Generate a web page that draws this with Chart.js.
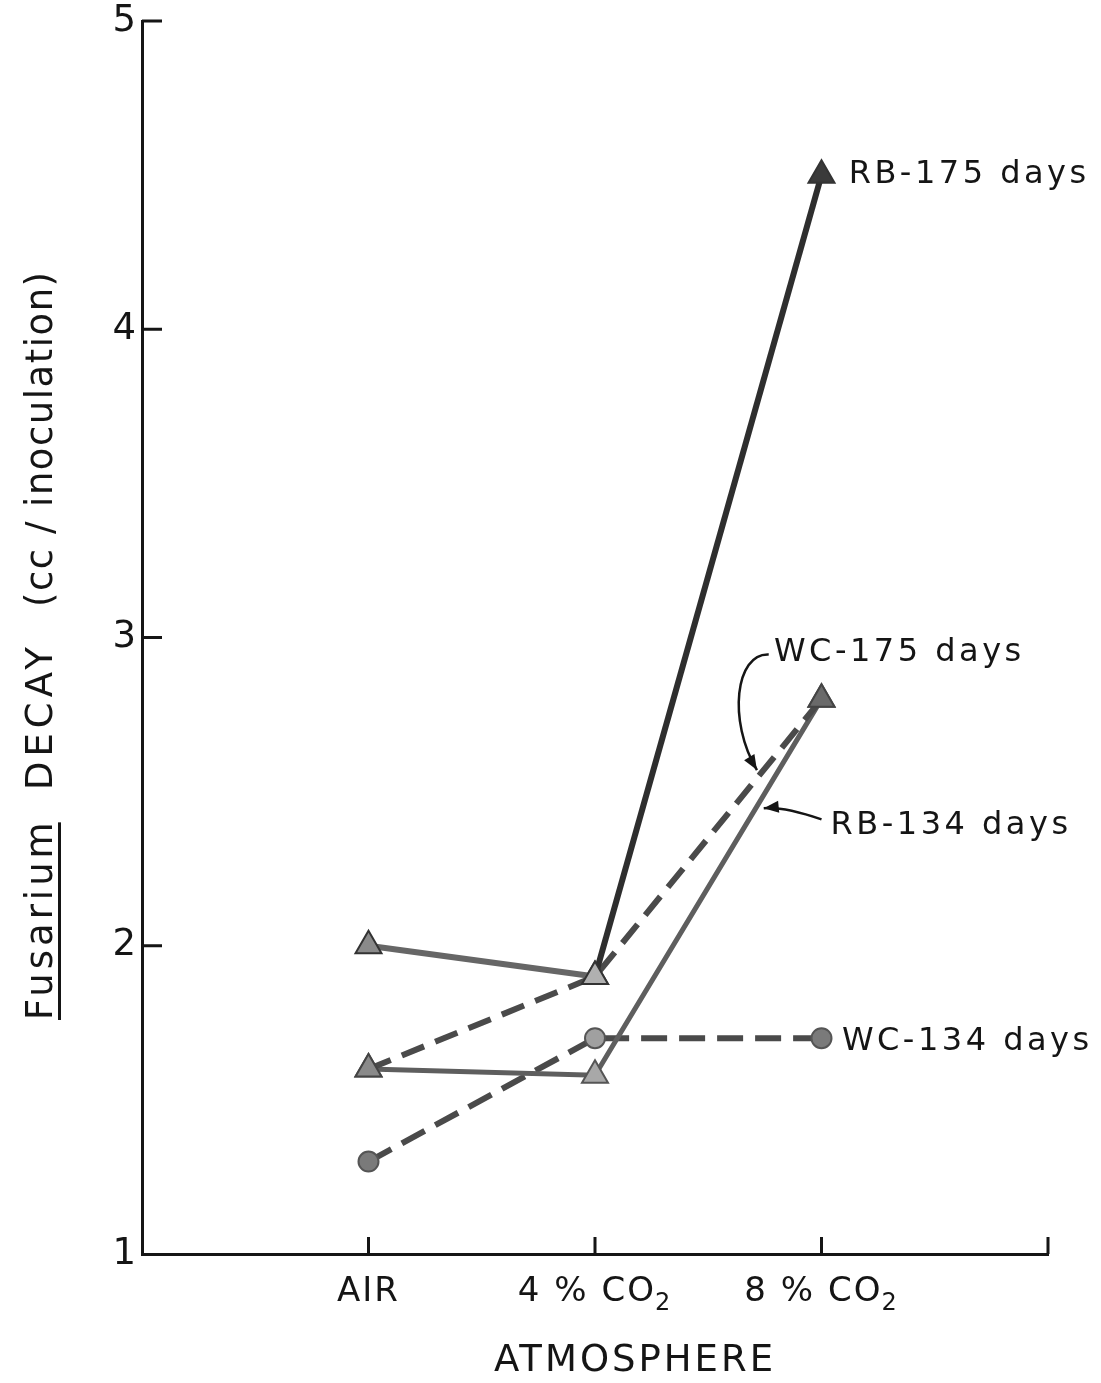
<!DOCTYPE html>
<html>
<head>
<meta charset="utf-8">
<script src="https://cdn.jsdelivr.net/npm/chart.js@4/dist/chart.umd.min.js"></script>
<style>
  html, body { margin: 0; padding: 0; background: #fff; }
  #chart { display: block; }
</style>
</head>
<body>
<canvas id="chart" width="1101" height="1383"></canvas>
<script>
// categories along the x axis; the trailing part goes in subscript
const categories = ['AIR', '4 % CO', '8 % CO']
const categorySubs = ['', '2', '2']
const yTickValues = [1, 2, 3, 4, 5]

// decay, cc per inoculation
const rb175 = [2.0, 1.9, 4.5]
const wc175 = [1.6, 1.9, 2.8]
const rb134 = [1.6, 1.58, 2.8]
const wc134 = [1.3, 1.7, 1.7]

const seriesNames = ['RB-175 days', 'WC-175 days', 'RB-134 days', 'WC-134 days']

const toPoints = (arr) => arr.map((v, i) => ({ x: i, y: v }))

const INK = '#151515'
const FONT = '"DejaVu Sans", sans-serif'

// label anchors and leader curves, in data units
const labelAt = [
  { x: 2.12, y: 4.5 },
  { x: 1.79, y: 2.95 },
  { x: 2.04, y: 2.39 },
  { x: 2.09, y: 1.69 },
]
const leaders = [
  { from: { x: 1.767, y: 2.945 }, c1: { x: 1.62, y: 2.95 }, c2: { x: 1.585, y: 2.73 }, to: { x: 1.715, y: 2.57 } },
  { from: { x: 2.0, y: 2.41 }, c1: { x: 1.88, y: 2.44 }, c2: { x: 1.8, y: 2.45 }, to: { x: 1.745, y: 2.446 } },
]

const drawArrowHead = (ctx, x0, y0, x1, y1) => {
  const a = Math.atan2(y1 - y0, x1 - x0)
  const len = 15
  const w = 6
  ctx.beginPath()
  ctx.moveTo(x1, y1)
  ctx.lineTo(x1 - len * Math.cos(a) + w * Math.sin(a), y1 - len * Math.sin(a) - w * Math.cos(a))
  ctx.lineTo(x1 - len * Math.cos(a) - w * Math.sin(a), y1 - len * Math.sin(a) + w * Math.cos(a))
  ctx.closePath()
  ctx.fill()
}

const decorations = {
  id: 'decorations',
  beforeDraw(chart) {
    chart.ctx.letterSpacing = '2px'
  },
  afterDraw(chart) {
    const { ctx, chartArea, scales } = chart
    const x = scales.x
    const y = scales.y
    const px = (v) => x.getPixelForValue(v)
    const py = (v) => y.getPixelForValue(v)

    ctx.save()
    ctx.strokeStyle = INK
    ctx.fillStyle = INK
    ctx.lineWidth = 3
    ctx.lineCap = 'butt'

    // inward tick marks
    ctx.beginPath()
    yTickValues.slice(1).forEach((v) => {
      ctx.moveTo(chartArea.left, py(v))
      ctx.lineTo(chartArea.left + 20, py(v))
    })
    ;[0, 1, 2, 3].forEach((v) => {
      ctx.moveTo(px(v), chartArea.bottom)
      ctx.lineTo(px(v), chartArea.bottom - 17)
    })
    ctx.stroke()

    // category labels with subscripts
    ctx.textBaseline = 'alphabetic'
    ctx.textAlign = 'left'
    x.ticks.forEach((t) => {
      const i = t.value
      ctx.font = '34px ' + FONT
      ctx.letterSpacing = '2px'
      const w1 = ctx.measureText(categories[i]).width
      ctx.font = '24px ' + FONT
      ctx.letterSpacing = '0px'
      const w2 = categorySubs[i] ? ctx.measureText(categorySubs[i]).width + 1 : 0
      const left = px(i) - (w1 + w2) / 2
      ctx.font = '34px ' + FONT
      ctx.letterSpacing = '2px'
      ctx.fillText(categories[i], left, chartArea.bottom + 47)
      if (categorySubs[i]) {
        ctx.font = '24px ' + FONT
        ctx.letterSpacing = '0px'
        ctx.fillText(categorySubs[i], left + w1 - 1, chartArea.bottom + 56)
      }
    })

    // series labels
    ctx.font = '32px ' + FONT
    ctx.letterSpacing = '3.5px'
    ctx.textBaseline = 'middle'
    ctx.textAlign = 'left'
    seriesNames.forEach((name, i) => {
      ctx.fillText(name, px(labelAt[i].x), py(labelAt[i].y))
    })

    // leader arrows
    ctx.lineWidth = 2.5
    leaders.forEach((l) => {
      ctx.beginPath()
      ctx.moveTo(px(l.from.x), py(l.from.y))
      ctx.bezierCurveTo(px(l.c1.x), py(l.c1.y), px(l.c2.x), py(l.c2.y), px(l.to.x), py(l.to.y))
      ctx.stroke()
      drawArrowHead(ctx, px(l.c2.x), py(l.c2.y), px(l.to.x), py(l.to.y))
    })

    // x axis title
    ctx.font = '37px ' + FONT
    ctx.letterSpacing = '3px'
    ctx.textAlign = 'center'
    ctx.fillText('ATMOSPHERE', 635, 1361)

    // y axis title, rotated
    ctx.translate(52, 0)
    ctx.rotate(-Math.PI / 2)
    ctx.textAlign = 'left'
    ctx.textBaseline = 'alphabetic'
    ctx.font = '37px ' + FONT
    ctx.letterSpacing = '4px'
    ctx.fillText('Fusarium', -1020, 0)
    const fw = ctx.measureText('Fusarium').width
    ctx.fillRect(-1020, 6, fw - 4, 3)
    ctx.letterSpacing = '5px'
    ctx.fillText('DECAY', -790, 0)
    ctx.letterSpacing = '1.5px'
    ctx.fillText('(cc / inoculation)', -607, 0)
    ctx.restore()
  },
}

new Chart(document.getElementById('chart'), {
  type: 'line',
  data: {
    datasets: [
      {
        label: seriesNames[0],
        data: toPoints(rb175),
        borderColor: '#333',
        borderWidth: 6,
        segment: { borderColor: (c) => (c.p0DataIndex === 0 ? '#666' : '#2e2e2e') },
        pointStyle: 'triangle',
        pointRadius: 15,
        pointBackgroundColor: ['#8a8a8a', '#b0b0b0', '#3a3a3a'],
        pointBorderColor: '#333',
        pointBorderWidth: 2,
      },
      {
        label: seriesNames[1],
        data: toPoints(wc175),
        borderColor: '#4a4a4a',
        borderWidth: 6,
        borderDash: [24, 12],
        pointStyle: 'triangle',
        pointRadius: 15,
        pointBackgroundColor: ['#8a8a8a', '#b0b0b0', '#6a6a6a'],
        pointBorderColor: '#444',
        pointBorderWidth: 2,
      },
      {
        label: seriesNames[2],
        data: toPoints(rb134),
        borderColor: '#5e5e5e',
        borderWidth: 5,
        pointStyle: 'triangle',
        pointRadius: 15,
        pointBackgroundColor: ['#8a8a8a', '#a8a8a8', '#6a6a6a'],
        pointBorderColor: '#555',
        pointBorderWidth: 2,
      },
      {
        label: seriesNames[3],
        data: toPoints(wc134),
        borderColor: '#4a4a4a',
        borderWidth: 6,
        borderDash: [26, 12],
        pointStyle: 'circle',
        pointRadius: 10,
        pointBackgroundColor: ['#7a7a7a', '#a0a0a0', '#7a7a7a'],
        pointBorderColor: '#555',
        pointBorderWidth: 2,
      },
    ],
  },
  options: {
    responsive: false,
    animation: false,
    events: [],
    layout: { padding: { top: 21, right: 53, bottom: 0, left: 0 } },
    plugins: { legend: { display: false }, tooltip: { enabled: false } },
    scales: {
      x: {
        type: 'linear',
        min: -1,
        max: 3,
        afterBuildTicks: (scale) => {
          scale.ticks = categories.map((c, i) => ({ value: i }))
        },
        afterFit: (scale) => {
          scale.height = 129
          scale.paddingLeft = 0
          scale.paddingRight = 0
        },
        grid: { display: false, drawTicks: false },
        border: { display: true, color: INK, width: 3 },
        ticks: { display: false },
      },
      y: {
        type: 'linear',
        min: 1,
        max: 5,
        afterBuildTicks: (scale) => {
          scale.ticks = yTickValues.map((v) => ({ value: v }))
        },
        afterFit: (scale) => {
          scale.width = 142
          scale.paddingTop = 0
          scale.paddingBottom = 0
        },
        grid: { display: false, drawTicks: false },
        border: { display: true, color: INK, width: 3 },
        ticks: {
          padding: 4,
          color: INK,
          font: { family: FONT, size: 37 },
          callback: (v) => String(v),
        },
      },
    },
  },
  plugins: [decorations],
})
</script>
</body>
</html>
